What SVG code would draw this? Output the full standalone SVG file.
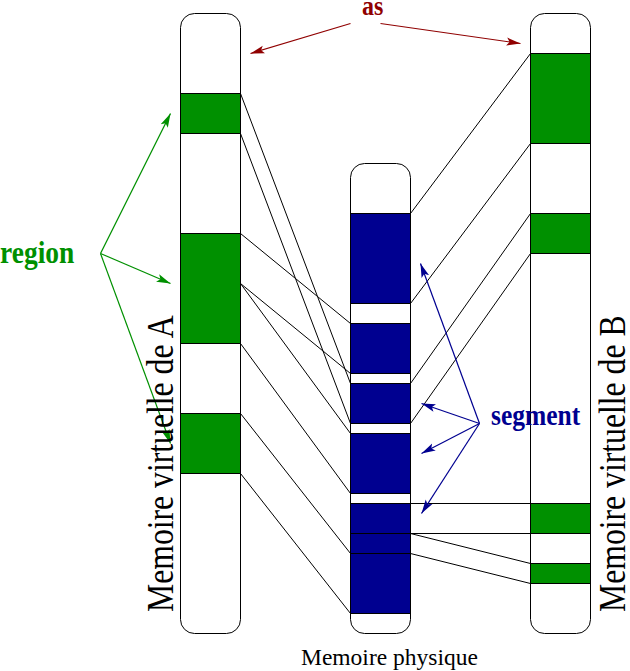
<svg xmlns="http://www.w3.org/2000/svg" width="630" height="671" viewBox="0 0 630 671">
<style>
.col{fill:#ffffff;stroke:#000000;stroke-width:1}
.g{fill:#009000;stroke:#000000;stroke-width:1}
.b{fill:#000090;stroke:#000000;stroke-width:1}
.ln{stroke:#000000;stroke-width:1;fill:none}
.ar{stroke:#900000;stroke-width:1.2;fill:none}
.ag{stroke:#009000;stroke-width:1.2;fill:none}
.ab{stroke:#000090;stroke-width:1.2;fill:none}
.lbl{font-family:"Liberation Serif","Times New Roman",serif}
.bold{font-weight:bold}
</style>
<defs>
<marker id="mr" markerUnits="userSpaceOnUse" markerWidth="16" markerHeight="10" refX="14" refY="5" orient="auto" viewBox="0 0 16 10"><path d="M0,1 L14,5 L0,9 L3,5 z" fill="#900000"/></marker>
<marker id="mg" markerUnits="userSpaceOnUse" markerWidth="16" markerHeight="10" refX="14" refY="5" orient="auto" viewBox="0 0 16 10"><path d="M0,1 L14,5 L0,9 L3,5 z" fill="#009000"/></marker>
<marker id="mb" markerUnits="userSpaceOnUse" markerWidth="16" markerHeight="10" refX="14" refY="5" orient="auto" viewBox="0 0 16 10"><path d="M0,1 L14,5 L0,9 L3,5 z" fill="#000090"/></marker>
</defs>
<g transform="translate(0.5,0.5)">
<g id="vmA">
<rect class="col" x="180" y="13" width="60" height="620" rx="14" ry="14"/>
<rect class="g" x="180" y="93" width="60" height="40"/>
<rect class="g" x="180" y="233" width="60" height="110"/>
<rect class="g" x="180" y="413" width="60" height="60"/>
</g>
<g id="phys">
<rect class="col" x="350" y="163" width="60" height="470" rx="14" ry="14"/>
<rect class="b" x="350" y="213" width="60" height="90"/>
<rect class="b" x="350" y="323" width="60" height="50"/>
<rect class="b" x="350" y="383" width="60" height="40"/>
<rect class="b" x="350" y="433" width="60" height="60"/>
<rect class="b" x="350" y="503" width="60" height="30"/>
<rect class="b" x="350" y="533" width="60" height="20"/>
<rect class="b" x="350" y="553" width="60" height="60"/>
</g>
<g id="vmB">
<rect class="col" x="530" y="13" width="60" height="620" rx="14" ry="14"/>
<rect class="g" x="530" y="53" width="60" height="90"/>
<rect class="g" x="530" y="213" width="60" height="40"/>
<rect class="g" x="530" y="503" width="60" height="30"/>
<rect class="g" x="530" y="563" width="60" height="20"/>
</g>
<g id="connectors">
<line class="ln" x1="240" y1="93" x2="350" y2="383"/>
<line class="ln" x1="240" y1="133" x2="350" y2="423"/>
<line class="ln" x1="240" y1="233" x2="350" y2="323"/>
<line class="ln" x1="240" y1="283" x2="350" y2="373"/>
<line class="ln" x1="240" y1="283" x2="350" y2="433"/>
<line class="ln" x1="240" y1="343" x2="350" y2="493"/>
<line class="ln" x1="240" y1="413" x2="350" y2="553"/>
<line class="ln" x1="240" y1="473" x2="350" y2="613"/>
<line class="ln" x1="410" y1="213" x2="530" y2="53"/>
<line class="ln" x1="410" y1="303" x2="530" y2="143"/>
<line class="ln" x1="410" y1="383" x2="530" y2="213"/>
<line class="ln" x1="410" y1="423" x2="530" y2="253"/>
<line class="ln" x1="410" y1="503" x2="530" y2="503"/>
<line class="ln" x1="410" y1="533" x2="530" y2="533"/>
<line class="ln" x1="410" y1="533" x2="530" y2="563"/>
<line class="ln" x1="410" y1="553" x2="530" y2="583"/>
<line class="ar" x1="350" y1="23" x2="250" y2="53" marker-end="url(#mr)"/>
<line class="ar" x1="380" y1="23" x2="520" y2="43" marker-end="url(#mr)"/>
<line class="ag" x1="100" y1="253" x2="170" y2="113" marker-end="url(#mg)"/>
<line class="ag" x1="100" y1="253" x2="170" y2="283" marker-end="url(#mg)"/>
<line class="ag" x1="100" y1="253" x2="170" y2="443" marker-end="url(#mg)"/>
<line class="ab" x1="479" y1="423" x2="420" y2="263" marker-end="url(#mb)"/>
<line class="ab" x1="479" y1="423" x2="421" y2="403" marker-end="url(#mb)"/>
<line class="ab" x1="479" y1="423" x2="421" y2="453" marker-end="url(#mb)"/>
<line class="ab" x1="479" y1="423" x2="421" y2="513" marker-end="url(#mb)"/>
</g>
</g>
<g id="labels">
<text class="lbl bold" transform="translate(362,15) scale(1,1.1)" font-size="24" fill="#900000">as</text>
<text class="lbl bold" transform="translate(0,263) scale(1,1.17)" font-size="27.5" fill="#009000">region</text>
<text class="lbl bold" transform="translate(491,425) scale(1,1.16)" font-size="25.5" fill="#000090">segment</text>
<text class="lbl" x="301" y="665" font-size="23.5" fill="#000000">Memoire physique</text>
<text class="lbl" transform="translate(173,612) rotate(-90) scale(1,1.19)" font-size="31.7" fill="#000000">Memoire virtuelle de A</text>
<text class="lbl" transform="translate(625,612) rotate(-90) scale(1,1.19)" font-size="31.7" fill="#000000">Memoire virtuelle de B</text>
</g>
</svg>
